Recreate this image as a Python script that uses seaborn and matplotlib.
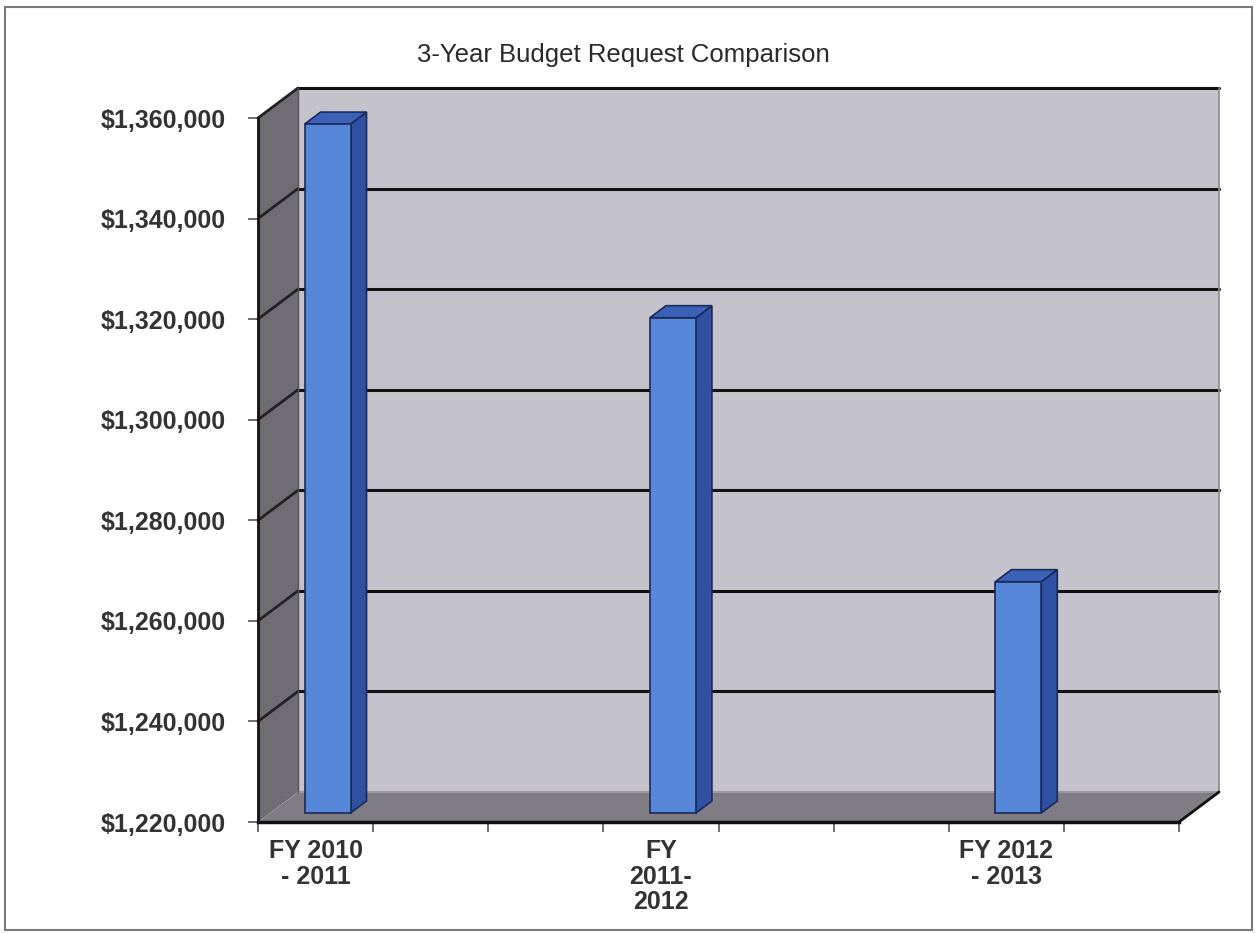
import numpy as np
import pandas as pd
import matplotlib
matplotlib.use("Agg")
import matplotlib.pyplot as plt
import seaborn as sns
from matplotlib.patches import Polygon, Rectangle
from matplotlib.lines import Line2D
from matplotlib.transforms import Affine2D, IdentityTransform
from matplotlib.ticker import FuncFormatter, FixedLocator

# ---- data ----
categories = ["FY 2010\n- 2011", "FY\n2011-\n2012", "FY 2012\n- 2013"]
budget_requests = [1357000, 1318500, 1266000]
y_ticks = [1220000, 1240000, 1260000, 1280000, 1300000, 1320000, 1340000, 1360000]
title = "3-Year Budget Request Comparison"

sns.set_theme(style="white")
plt.rcParams['font.family'] = ['Liberation Sans', 'DejaVu Sans']

W, H, DPI = 1256, 934, 100
fig = plt.figure(figsize=(W / DPI, H / DPI), dpi=DPI, facecolor='white')
ax = fig.add_axes([258 / W, (H - 822) / H, (1179 - 258) / W, (822 - 118) / H])
ax.set_facecolor('none')

df = pd.DataFrame({"cat": categories, "value": budget_requests})
sns.barplot(data=df, x="cat", y="value", ax=ax, width=0.133, color="#5787d9",
            edgecolor="#1b2a5c", linewidth=1.2, saturation=1, zorder=5)
bars = list(ax.patches)

x_lo, x_hi = -1 / 6, 2.5
y_lo, y_hi = y_ticks[0], y_ticks[-1]
ax.set_xlim(x_lo, x_hi)
ax.set_ylim(y_lo, y_hi)

DX, DY = 40, 30


def P(x, y, d):
    px, py = ax.transData.transform((x, y))
    return (px + d * DX, py + d * DY)


def poly(pts, fc, ec='none', lw=0, z=1):
    ax.add_patch(Polygon(pts, closed=True, facecolor=fc, edgecolor=ec, linewidth=lw,
                         transform=IdentityTransform(), clip_on=False, zorder=z))


def line(p0, p1, color='black', lw=2, z=1):
    ax.add_line(Line2D([p0[0], p1[0]], [p0[1], p1[1]], color=color, linewidth=lw,
                       transform=IdentityTransform(), clip_on=False, zorder=z))


# back wall
poly([P(x_lo, y_lo, 1), P(x_hi, y_lo, 1), P(x_hi, y_hi, 1), P(x_lo, y_hi, 1)], "#c4c3cb", z=0.5)
# left wall
poly([P(x_lo, y_lo, 0), P(x_lo, y_lo, 1), P(x_lo, y_hi, 1), P(x_lo, y_hi, 0)], "#6f6d73", z=0.6)
# floor
poly([P(x_lo, y_lo, 0), P(x_hi, y_lo, 0), P(x_hi, y_lo, 1), P(x_lo, y_lo, 1)], "#7f7d83", z=0.7)

# gridlines on back wall and left wall
for v in y_ticks[1:]:
    line(P(x_lo, v, 1), P(x_hi, v, 1), color="#111111", lw=2.2, z=0.8)
    line(P(x_lo, v, 0), P(x_lo, v, 1), color="#222222", lw=2.0, z=0.8)
line(P(x_hi, y_lo, 1), P(x_hi, y_hi, 1), color="#8a8a8a", lw=1.2, z=0.8)
line(P(x_lo, y_lo, 1), P(x_lo, y_hi, 1), color="#555555", lw=1.0, z=0.8)
line(P(x_hi, y_lo, 0), P(x_hi, y_lo, 1), color="#111111", lw=2.0, z=0.8)
line(P(x_lo, y_lo, 1), P(x_hi, y_lo, 1), color="#9a999e", lw=1.5, z=0.75)

# 3D bars
f0, f1 = 0.3, 0.7
for p in bars:
    x0 = p.get_x()
    x1 = x0 + p.get_width()
    top = p.get_height()
    p.set_y(y_lo)
    p.set_height(top - y_lo)
    p.set_transform(ax.transData + Affine2D().translate(f0 * DX, f0 * DY))
    p.set_clip_on(False)
    poly([P(x1, y_lo, f0), P(x1, y_lo, f1), P(x1, top, f1), P(x1, top, f0)],
         "#2f50a3", ec="#1b2a5c", lw=1.2, z=4.5)
    poly([P(x0, top, f0), P(x1, top, f0), P(x1, top, f1), P(x0, top, f1)],
         "#3c62b8", ec="#1b2a5c", lw=1.2, z=4.5)

# spines
for s in ["top", "right"]:
    ax.spines[s].set_visible(False)
ax.spines["left"].set_color("#111111")
ax.spines["left"].set_linewidth(2)
ax.spines["bottom"].set_color("#111111")
ax.spines["bottom"].set_linewidth(2.5)
ax.spines["left"].set_zorder(3)
ax.spines["bottom"].set_zorder(3)

# ticks
ax.yaxis.set_major_locator(FixedLocator(y_ticks))
ax.yaxis.set_major_formatter(FuncFormatter(lambda v, pos: f"${v:,.0f}"))
ax.tick_params(axis='y', left=True, direction='out', length=7, width=1.2, color="#555555",
               pad=16, labelsize=18, labelcolor="#333333")
ax.set_xticks([0, 1, 2])
ax.set_xticklabels(categories)
ax.set_xticks([x_lo + k / 3 for k in range(9)], minor=True)
ax.tick_params(axis='x', which='major', bottom=True, length=0, pad=12, labelsize=18,
               labelcolor="#333333")
ax.tick_params(axis='x', which='minor', bottom=True, direction='out', length=7, width=1.2,
               color="#555555")
for lab in ax.get_xticklabels() + ax.get_yticklabels():
    lab.set_fontweight('bold')
for lab in ax.get_xticklabels():
    lab.set_linespacing(1.1)
ax.set_xlabel("")
ax.set_ylabel("")
ax.grid(False)

# title
fig.text(623 / W, (H - 62) / H, title, ha='center', va='baseline', fontsize=18.5, color="#2a2a2a")

# outer border
fig.patches.append(Rectangle((5 / W, 4 / H), (1252 - 5) / W, (927 - 4) / H,
                             transform=fig.transFigure, fill=False,
                             edgecolor="#7a7a7a", linewidth=1.5))

fig.savefig("out.png", dpi=DPI, facecolor='white')
